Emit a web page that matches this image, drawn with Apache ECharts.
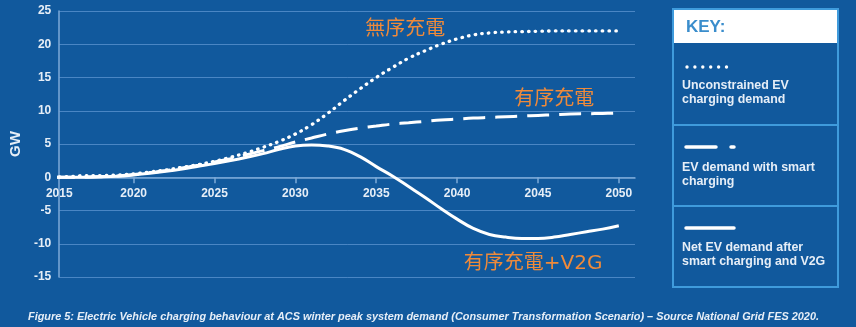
<!DOCTYPE html>
<html>
<head>
<meta charset="utf-8">
<script src="https://cdn.jsdelivr.net/npm/echarts@6/dist/echarts.min.js"></script>
<style>
  html, body { margin: 0; padding: 0; background: #11599d; }
  #chart { width: 856px; height: 327px; }
</style>
</head>
<body>
<div id="chart"></div>
<script>
// Years of the projection (GW at winter peak)
const years = [2015, 2016, 2017, 2018, 2019, 2020, 2021, 2022, 2023, 2024,
               2025, 2026, 2027, 2028, 2029, 2030, 2031, 2032, 2033, 2034,
               2035, 2036, 2037, 2038, 2039, 2040, 2041, 2042, 2043, 2044,
               2045, 2046, 2047, 2048, 2049, 2050];

// Unconstrained EV charging demand
const unconstrained = [0, 0.1, 0.25, 0.25, 0.35, 0.5, 0.8, 1.1, 1.5, 1.9,
                       2.4, 3.0, 3.7, 4.5, 5.4, 6.5, 7.9, 9.6, 11.5, 13.3,
                       15.0, 16.5, 17.9, 19.0, 20.0, 20.8, 21.4, 21.7, 21.85, 21.9,
                       21.95, 22.0, 22.0, 22.0, 22.0, 22.0];

// EV demand with smart charging
const smart = [0, 0, 0.05, 0.1, 0.2, 0.4, 0.7, 1.0, 1.4, 1.8,
               2.3, 2.8, 3.4, 4.0, 4.6, 5.3, 5.9, 6.5, 7.0, 7.4,
               7.7, 8.0, 8.2, 8.4, 8.6, 8.75, 8.9, 9.0, 9.1, 9.2,
               9.3, 9.4, 9.5, 9.55, 9.6, 9.65];

// Net EV demand after smart charging and V2G
const netV2G = [0, 0, 0, 0.05, 0.15, 0.35, 0.6, 0.9, 1.25, 1.65,
                2.05, 2.5, 3.0, 3.55, 4.2, 4.7, 4.85, 4.7, 4.2, 3.1,
                1.6, 0.2, -1.4, -3.0, -4.7, -6.3, -7.7, -8.6, -9.0, -9.2,
                -9.2, -9.0, -8.6, -8.2, -7.8, -7.3];

const xTickYears = [2015, 2020, 2025, 2030, 2035, 2040, 2045, 2050];
const xStart = 2015.4;   // left edge of the plot sits just after 2015
const xEnd = 2051;
const yMin = -15, yMax = 25, yStep = 5;

const labelUnconstrained = '無序充電';
const labelSmart = '有序充電';
const labelV2G = '有序充電+V2G';

const keyTitle = 'KEY:';
const keyItems = [
  'Unconstrained EV\ncharging demand',
  'EV demand with smart\ncharging',
  'Net EV demand after\nsmart charging and V2G'
];
const caption = 'Figure 5: Electric Vehicle charging behaviour at ACS winter peak system demand (Consumer Transformation Scenario) \u2013 Source National Grid FES 2020.';

const pair = vals => years.map((y, i) => [y, vals[i]]);

const WHITE = '#ffffff';
const TEXT = '#e6eef7';
const ORANGE = '#ef8a3a';
const GRID = '#4a86c4';
const AXIS = '#7eaad8';
const KEYLINE = '#3f9bdc';

const annot = (text, coord) => ({
  data: [{ coord: coord, value: text }],
  symbol: 'circle', symbolSize: 0, silent: true,
  label: {
    show: true, position: 'inside', formatter: text,
    color: ORANGE, fontSize: 20,
    fontFamily: '"DejaVu Sans", "Noto Sans CJK TC", sans-serif'
  }
});

const chart = echarts.init(document.getElementById('chart'), null, { renderer: 'canvas' });

const gridTop = 11, gridH = 266;
// the year axis is drawn along the zero line
const zeroOffset = -gridH * (0 - yMin) / (yMax - yMin);

const keyX = 673, keyY = 9, keyW = 165, keyH = 278;
const keyFont = 'bold 12.4px "Liberation Sans", Arial, sans-serif';

chart.setOption({
  backgroundColor: '#11599d',
  animation: false,
  grid: { left: 54, top: gridTop, width: 581, height: gridH },
  xAxis: {
    type: 'value', min: xStart, max: xEnd,
    offset: zeroOffset,
    axisLine: { onZero: false, lineStyle: { color: AXIS, width: 1.5 } },
    axisTick: {
      show: true, length: 6, customValues: xTickYears.slice(1),
      lineStyle: { color: AXIS, width: 1.5 }
    },
    axisLabel: {
      customValues: [xStart].concat(xTickYears.slice(1)),
      formatter: v => String(Math.round(v)),
      color: TEXT, fontSize: 12, fontWeight: 'bold',
      fontFamily: '"Liberation Sans", Arial, sans-serif', margin: 10
    },
    splitLine: { show: false }
  },
  yAxis: {
    type: 'value', min: yMin, max: yMax, interval: yStep,
    name: 'GW', nameLocation: 'middle', nameGap: 36, nameRotate: 90,
    nameTextStyle: { color: TEXT, fontSize: 15, fontWeight: 'bold',
                     fontFamily: '"Liberation Sans", Arial, sans-serif' },
    axisLine: { show: true, lineStyle: { color: AXIS, width: 1.5 } },
    axisTick: { show: false },
    axisLabel: { color: TEXT, fontSize: 12, fontWeight: 'bold', margin: 8,
                 fontFamily: '"Liberation Sans", Arial, sans-serif' },
    splitLine: { show: true, lineStyle: { color: GRID, width: 1 } }
  },
  series: [
    {
      name: 'Unconstrained EV charging demand', type: 'line',
      data: pair(unconstrained), smooth: 0.4, showSymbol: false, z: 3,
      lineStyle: { color: WHITE, width: 3.3, type: [0.5, 6.2], cap: 'round' },
      markPoint: annot(labelUnconstrained, [2036.8, 22.15])
    },
    {
      name: 'EV demand with smart charging', type: 'line',
      data: pair(smart), smooth: 0.4, showSymbol: false, z: 3,
      lineStyle: { color: WHITE, width: 3, type: [22, 10] },
      markPoint: annot(labelSmart, [2046.0, 11.65])
    },
    {
      name: 'Net EV demand after smart charging and V2G', type: 'line',
      data: pair(netV2G), smooth: 0.4, showSymbol: false, z: 4,
      lineStyle: { color: WHITE, width: 3 },
      markPoint: annot(labelV2G, [2044.7, -12.95])
    }
  ],
  graphic: [
    // key panel
    { type: 'rect', shape: { x: keyX, y: keyY, width: keyW, height: 34 },
      style: { fill: '#ffffff' } },
    { type: 'rect', shape: { x: keyX, y: keyY, width: keyW, height: keyH },
      style: { fill: null, stroke: KEYLINE, lineWidth: 2 } },
    { type: 'line', shape: { x1: keyX, y1: 125, x2: keyX + keyW, y2: 125 },
      style: { stroke: KEYLINE, lineWidth: 2 } },
    { type: 'line', shape: { x1: keyX, y1: 206, x2: keyX + keyW, y2: 206 },
      style: { stroke: KEYLINE, lineWidth: 2 } },
    { type: 'text', x: 686, y: 27,
      style: { text: keyTitle, fill: '#3a8dcc', verticalAlign: 'middle',
               font: 'bold 17px "Liberation Sans", Arial, sans-serif' } },
    // dotted sample
    ...[0, 1, 2, 3, 4, 5].map(i => ({
      type: 'circle', shape: { cx: 687 + i * 7.9, cy: 67, r: 1.7 },
      style: { fill: WHITE }
    })),
    { type: 'text', x: 682, y: 93,
      style: { text: keyItems[0], fill: TEXT, font: keyFont, lineHeight: 14,
               verticalAlign: 'middle' } },
    // dashed sample
    { type: 'line', shape: { x1: 686, y1: 147, x2: 716, y2: 147 },
      style: { stroke: WHITE, lineWidth: 3.5, lineCap: 'round' } },
    { type: 'line', shape: { x1: 731, y1: 147, x2: 734, y2: 147 },
      style: { stroke: WHITE, lineWidth: 3.5, lineCap: 'round' } },
    { type: 'text', x: 682, y: 174.5,
      style: { text: keyItems[1], fill: TEXT, font: keyFont, lineHeight: 14,
               verticalAlign: 'middle' } },
    // solid sample
    { type: 'line', shape: { x1: 686, y1: 228, x2: 734, y2: 228 },
      style: { stroke: WHITE, lineWidth: 3.5, lineCap: 'round' } },
    { type: 'text', x: 682, y: 255,
      style: { text: keyItems[2], fill: TEXT, font: keyFont, lineHeight: 14,
               verticalAlign: 'middle' } },
    // caption
    { type: 'text', x: 28, y: 317,
      style: { text: caption, fill: TEXT, verticalAlign: 'middle',
               font: 'italic bold 10.9px "Liberation Sans", Arial, sans-serif' } }
  ]
});
</script>
</body>
</html>
